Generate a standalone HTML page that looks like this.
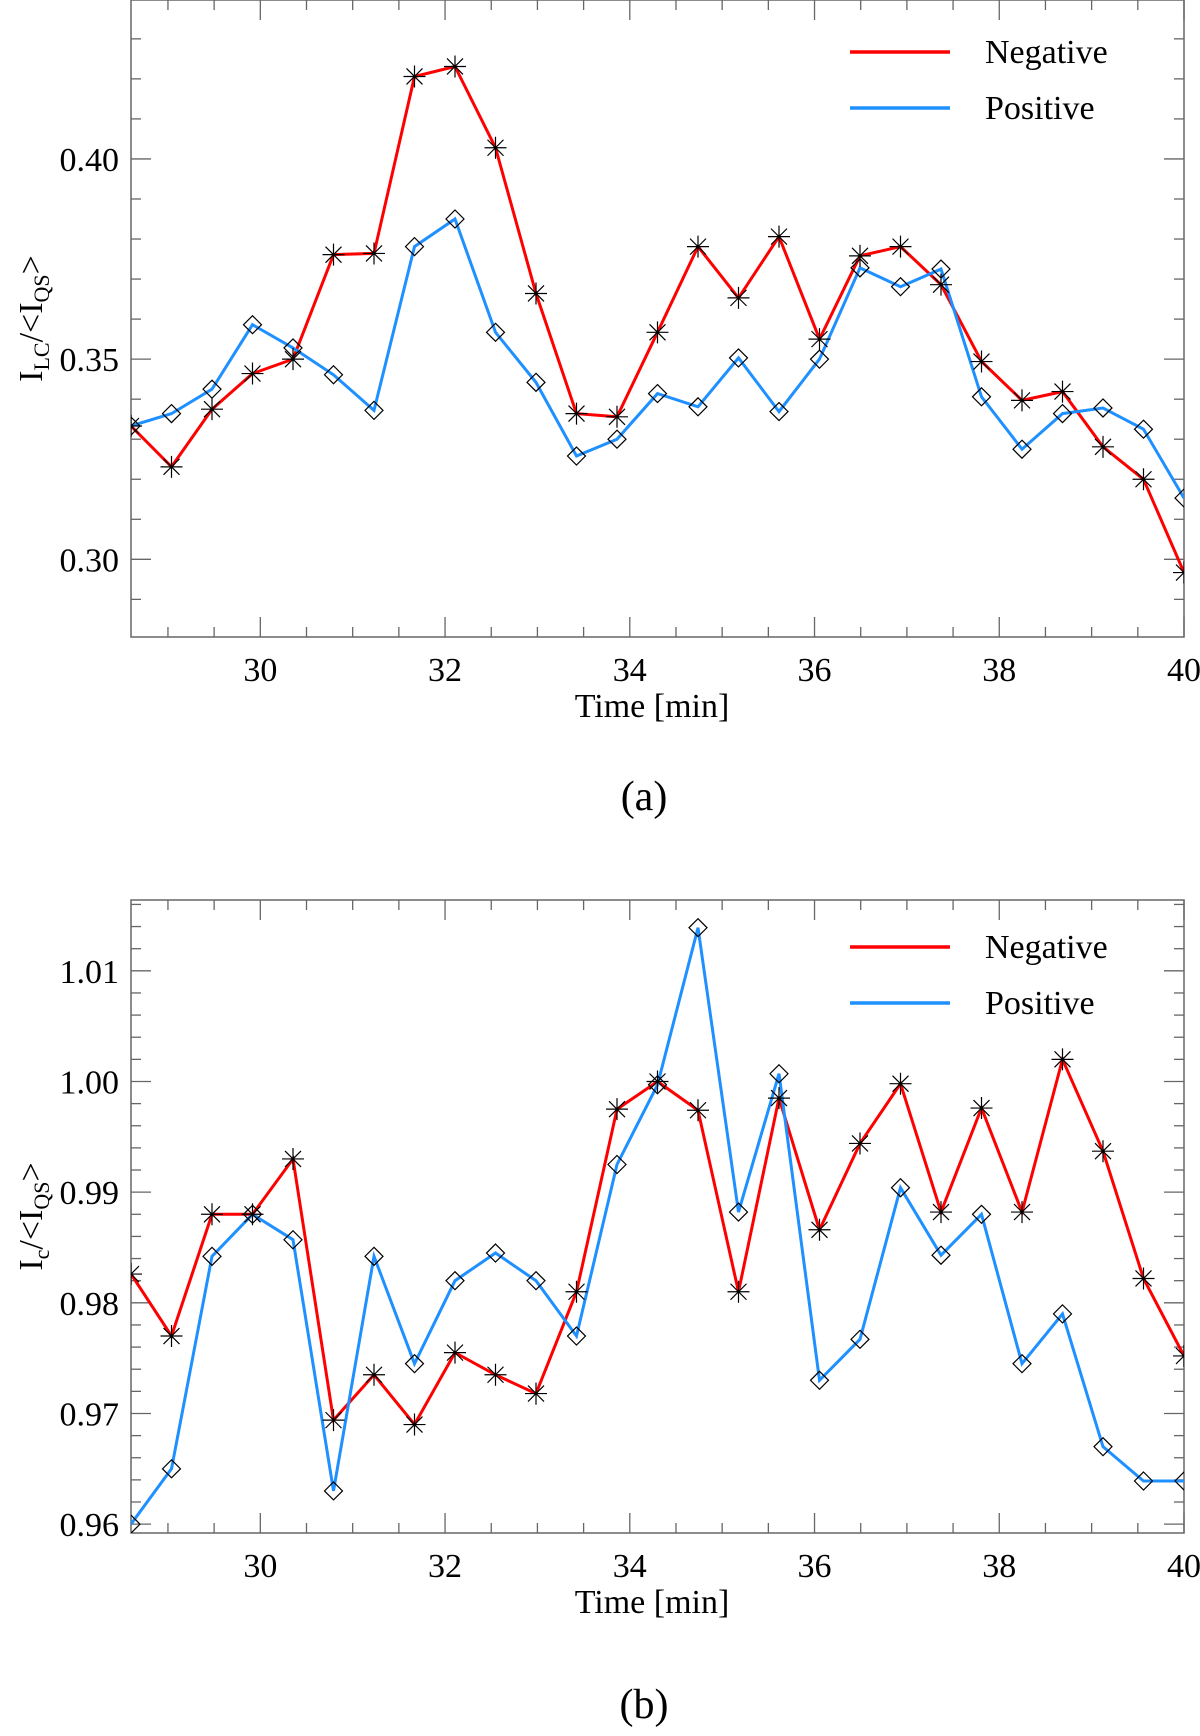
<!DOCTYPE html>
<html><head><meta charset="utf-8"><style>
html,body{margin:0;padding:0;background:#fff;}
svg{display:block;font-family:"Liberation Serif",serif;}
</style></head><body>
<svg id="fig" width="1200" height="1736" viewBox="0 0 1200 1736" xmlns="http://www.w3.org/2000/svg"></svg>
<script>
const times = [];
for (let i = 0; i < 27; i++) times.push(28.6 + i * (11.4 / 26));
const aNeg = [0.3333,0.3231,0.3375,0.3464,0.3500,0.3761,0.3764,0.4206,0.4231,0.4028,0.3664,0.3364,0.3356,0.3567,0.3781,0.3653,0.3806,0.3550,0.3758,0.3781,0.3686,0.3494,0.3397,0.3419,0.3281,0.3200,0.2967];
const aPos = [0.3333,0.3364,0.3425,0.3586,0.3528,0.3461,0.3372,0.3781,0.3850,0.3567,0.3442,0.3258,0.3300,0.3414,0.3381,0.3503,0.3369,0.3500,0.3728,0.3681,0.3725,0.3406,0.3275,0.3364,0.3378,0.3325,0.3153];
const bNeg = [0.9826,0.9770,0.9880,0.9880,0.9930,0.9694,0.9735,0.9690,0.9755,0.9735,0.9718,0.9810,0.9975,1.0000,0.9974,0.9810,0.9985,0.9866,0.9944,0.9998,0.9882,0.9976,0.9882,1.0020,0.9937,0.9822,0.9752];
const bPos = [0.9600,0.9650,0.9842,0.9880,0.9857,0.9630,0.9842,0.9745,0.9820,0.9845,0.9820,0.9770,0.9925,0.9997,1.0139,0.9882,1.0007,0.9730,0.9767,0.9904,0.9843,0.9880,0.9745,0.9790,0.9670,0.9639,0.9639];
const xTicks = [30,32,34,36,38,40];
const aYTicks = [0.30,0.35,0.40];
const bYTicks = [0.96,0.97,0.98,0.99,1.00,1.01];

const NS = "http://www.w3.org/2000/svg";
const svg = document.getElementById('fig');
function mk(tag, attrs, parent) {
  const e = document.createElementNS(NS, tag);
  for (const k in attrs) e.setAttribute(k, attrs[k]);
  (parent || svg).appendChild(e);
  return e;
}

function panel(cfg) {
  const g = mk('g', {});
  
  
  const L = 131, R = 1184, T = cfg.top, B = cfg.bottom;
  const sx = v => L + (v - 28.6) / (40 - 28.6) * (R - L);
  const sy = v => B - (v - cfg.ymin) / (cfg.ymax - cfg.ymin) * (B - T);
  const frame = mk('rect', {x: L, y: T, width: R - L, height: B - T, fill: 'none', stroke: '#666', 'stroke-width': 1.5}, g);
  
  
  for (let t = 29; t <= 40.001; t += 0.5) {
    const x = sx(t); const major = Math.abs(t - Math.round(t / 2) * 2) < 1e-6;
    const len = major ? 20 : 10;
    mk('line', {x1: x, x2: x, y1: B, y2: B - len, stroke: '#666', 'stroke-width': 1.3}, g);
    mk('line', {x1: x, x2: x, y1: T, y2: T + len, stroke: '#666', 'stroke-width': 1.3}, g);
  }
  xTicks.forEach(t => {
    const tx = mk('text', {x: sx(t), y: B + 44, 'font-size': 34, 'text-anchor': 'middle'}, g);
    tx.textContent = t;
    
    
  });
  const start = Math.ceil(cfg.ymin / cfg.minor - 1e-6);
  for (let k = start; k * cfg.minor <= cfg.ymax + 1e-9; k++) {
    const v = k * cfg.minor; const y = sy(v);
    const major = cfg.yticks.some(m => Math.abs(m - v) < 1e-6);
    const len = major ? 20 : 10;
    mk('line', {x1: L, x2: L + len, y1: y, y2: y, stroke: '#666', 'stroke-width': 1.3}, g);
    mk('line', {x1: R, x2: R - len, y1: y, y2: y, stroke: '#666', 'stroke-width': 1.3}, g);
  }
  cfg.yticks.forEach(v => {
    const tx = mk('text', {x: L - 12, y: sy(v) + 12, 'font-size': 34, 'text-anchor': 'end'}, g);
    tx.textContent = v.toFixed(2);
    
    
  });
  const xt = mk('text', {x: 652, y: B + 80, 'font-size': 34, 'text-anchor': 'middle'}, g);
  xt.textContent = 'Time [min]';
  
  
  const cy = (T + B) / 2;
  const yt = mk('text', {x: 0, y: 0, 'font-size': 34, 'text-anchor': 'middle', transform: `translate(42 ${cy}) rotate(-90)`}, g);
  yt.innerHTML = cfg.ylabel;
  
  
  const cid = 'clip' + cfg.name;
  const cp = mk('clipPath', {id: cid}, g);
  mk('rect', {x: L, y: T, width: R - L, height: B - T}, cp);
  const dg = mk('g', {'clip-path': `url(#${cid})`}, g);
  const series = [[cfg.neg, '#ff0000', 'negative'], [cfg.pos, '#1e90ff', 'positive']];
  series.forEach(([arr, col, nm]) => {
    const pts = arr.map((v, i) => sx(times[i]).toFixed(1) + ',' + sy(v).toFixed(1)).join(' ');
    const pl = mk('polyline', {points: pts, fill: 'none', stroke: col, 'stroke-width': 3}, dg);
    
    
  });
  cfg.neg.forEach((v, i) => {
    const x = sx(times[i]), y = sy(v), r = 11;
    const m = mk('path', {d: `M${x - r},${y}H${x + r}M${x},${y - r}V${y + r}M${x - 8},${y - 8}L${x + 8},${y + 8}M${x - 8},${y + 8}L${x + 8},${y - 8}`, stroke: '#000', 'stroke-width': 1.2, fill: 'none'}, dg);
    
    
  });
  cfg.pos.forEach((v, i) => {
    const x = sx(times[i]), y = sy(v), r = 9;
    const m = mk('path', {d: `M${x},${y - r}L${x + r},${y}L${x},${y + r}L${x - r},${y}Z`, stroke: '#000', 'stroke-width': 1.2, fill: 'none'}, dg);
    
    
  });
  const lg = mk('g', {}, g);
  
  
  [['Negative', '#ff0000', 0], ['Positive', '#1e90ff', 56]].forEach(([lab, col, dy]) => {
    const y = T + cfg.legTop + dy;
    mk('line', {x1: 850, x2: 950, y1: y, y2: y, stroke: col, 'stroke-width': 3.5}, lg);
    const t = mk('text', {x: 985, y: y + 11, 'font-size': 34}, lg);
    t.textContent = lab;
    
    
  });
  const cap = mk('text', {x: 644, y: cfg.capY, 'font-size': 42, 'text-anchor': 'middle'}, g);
  cap.textContent = cfg.cap;
  
  
}

panel({name: 'panel-a', top: 0, bottom: 637, ymin: 0.2806, ymax: 0.4397, minor: 0.01, yticks: aYTicks,
  neg: aNeg, pos: aPos, legTop: 52, capY: 810, cap: '(a)',
  ylabel: 'I<tspan font-size="22" dy="7">LC</tspan><tspan dy="-7">/&lt;I</tspan><tspan font-size="22" dy="7">QS</tspan><tspan dy="-7">&gt;</tspan>'});
panel({name: 'panel-b', top: 900, bottom: 1533, ymin: 0.9592, ymax: 1.0164, minor: 0.002, yticks: bYTicks,
  neg: bNeg, pos: bPos, legTop: 47, capY: 1718, cap: '(b)',
  ylabel: 'I<tspan font-size="22" dy="7">c</tspan><tspan dy="-7">/&lt;I</tspan><tspan font-size="22" dy="7">QS</tspan><tspan dy="-7">&gt;</tspan>'});
</script>
</body></html>
